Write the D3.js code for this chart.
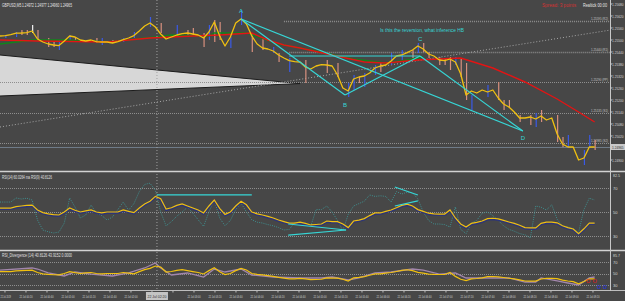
<!DOCTYPE html>
<html>
<head>
<meta charset="utf-8">
<script src="https://cdn.jsdelivr.net/npm/d3@7"></script>
<style>
  html, body { margin: 0; padding: 0; background: #474747; overflow: hidden; }
  svg { display: block; font-family: "Liberation Sans Narrow", "Liberation Sans", "DejaVu Sans", sans-serif; }
</style>
</head>
<body>
<div id="chart"></div>
<script>
// closing prices, one per bar (GBPUSD M5)
const closes = [
  1.25520,1.25522,1.25527,1.25534,1.25535,1.25537,1.25545,1.25505,1.25490,1.25480,
  1.25475,1.25472,1.25495,1.25520,1.25515,1.25500,1.25495,1.25500,1.25492,1.25490,
  1.25490,1.25485,1.25492,1.25502,1.25510,1.25522,1.25545,1.25570,1.25585,1.25565,
  1.25530,1.25505,1.25515,1.25525,1.25532,1.25535,1.25530,1.25525,1.25510,1.25540,
  1.25590,1.25520,1.25470,1.25515,1.25585,1.25605,1.25580,1.25520,1.25480,1.25460,
  1.25455,1.25445,1.25425,1.25410,1.25397,1.25392,1.25390,1.25365,1.25355,1.25370,
  1.25377,1.25375,1.25370,1.25325,1.25260,1.25245,1.25305,1.25315,1.25320,1.25335,
  1.25360,1.25370,1.25375,1.25395,1.25420,1.25425,1.25437,1.25450,1.25470,1.25455,
  1.25430,1.25420,1.25400,1.25397,1.25405,1.25390,1.25330,1.25225,1.25245,1.25235,
  1.25250,1.25240,1.25250,1.25210,1.25180,1.25165,1.25140,1.25110,1.25110,1.25115,
  1.25105,1.25120,1.25100,1.25110,1.25030,1.24980,1.24965,1.24965,1.24900,1.24910,
  1.24965,1.24965
];

// bar ranges: [bar, high, low, kind]  b = up, s = down, w = doji
const wicks = [
  [1,1.25525,1.25510,"b"],[3,1.25540,1.25515,"b"],[4,1.25550,1.25525,"s"],[5,1.25550,1.25525,"s"],
  [6,1.25575,1.25535,"w"],[7,1.25550,1.25500,"s"],[9,1.25510,1.25465,"s"],[10,1.25490,1.25465,"s"],
  [11,1.25500,1.25450,"b"],[13,1.25525,1.25500,"b"],[14,1.25515,1.25490,"s"],[18,1.25510,1.25485,"s"],
  [19,1.25510,1.25475,"b"],[21,1.25500,1.25485,"w"],[23,1.25510,1.25490,"b"],[25,1.25540,1.25510,"b"],
  [28,1.25615,1.25565,"b"],[30,1.25585,1.25535,"s"],[33,1.25575,1.25515,"b"],[35,1.25550,1.25515,"s"],
  [36,1.25560,1.25525,"s"],[38,1.25535,1.25465,"s"],[39,1.25575,1.25500,"b"],[40,1.25600,1.25490,"s"],
  [41,1.25590,1.25500,"s"],[43,1.25515,1.25460,"b"],[45,1.25650,1.25575,"b"],[47,1.25535,1.25440,"s"],
  [49,1.25510,1.25450,"s"],[51,1.25465,1.25435,"b"],[52,1.25435,1.25390,"s"],[54,1.25410,1.25340,"b"],
  [57,1.25400,1.25285,"s"],[61,1.25400,1.25335,"s"],[63,1.25385,1.25315,"s"],[65,1.25285,1.25215,"b"],
  [66,1.25325,1.25250,"b"],[67,1.25315,1.25285,"s"],[68,1.25335,1.25265,"b"],[70,1.25375,1.25325,"b"],
  [71,1.25390,1.25340,"s"],[73,1.25435,1.25375,"b"],[75,1.25450,1.25400,"b"],[77,1.25450,1.25410,"s"],
  [78,1.25485,1.25435,"b"],[79,1.25485,1.25440,"s"],[80,1.25440,1.25410,"s"],[82,1.25415,1.25375,"s"],
  [83,1.25410,1.25375,"s"],[84,1.25415,1.25350,"s"],[85,1.25415,1.25375,"b"],[86,1.25410,1.25315,"s"],
  [87,1.25385,1.25200,"s"],[88,1.25225,1.25150,"b"],[91,1.25275,1.25215,"b"],[93,1.25290,1.25200,"s"],
  [94,1.25200,1.25150,"s"],[95,1.25200,1.25160,"s"],[97,1.25125,1.25090,"s"],[99,1.25125,1.25075,"s"],
  [100,1.25135,1.25065,"b"],[101,1.25150,1.25090,"s"],[104,1.25125,1.24990,"s"],[105,1.25015,1.24965,"s"],
  [106,1.25025,1.24960,"b"],[109,1.24950,1.24875,"b"],[110,1.25025,1.24960,"b"],[111,1.25000,1.24950,"s"]
];

// moving averages [bar, price]
const maSlow = [
  [0,1.25500],[7,1.25495],[20,1.25490],[28,1.25510],[36,1.25520],[41,1.25525],[47,1.25535],
  [50,1.25500],[53,1.25475],[56,1.25460],[62,1.25425],[68,1.25390],[72,1.25385],[78,1.25400],
  [86,1.25410],[92,1.25360],[98,1.25290],[104,1.25205],[108,1.25140],[111,1.25090]
];
const maFast = [
  [0,1.25480],[6,1.25500],[12,1.25500],[20,1.25490],[29,1.25515],[32,1.25525],[39,1.25520],
  [40,1.25535],[46,1.25535],[52,1.25480],[58,1.25450],[66,1.25405],[72,1.25385],[76,1.25400],[79,1.25415]
];

// pivot levels
const levelValues = [1.25595, 1.25440, 1.25290, 1.25135, 1.24985];
const levelNames  = ["R2", "R1", "PP", "S1", "S2"];
const levelFrom   = [53, 54, 0, 0, 0];
const bidPrice = 1.24965;

// drawn pattern A-B-C-D
const patternNames  = ["A", "B", "C", "D"];
const patternBars   = [45, 64.4, 78.4, 97.6];
const patternPrices = [1.25605, 1.25225, 1.25420, 1.25045];

// grey channel wedge and trend line [bar, price]
const wedge = [[0,1.25425],[56,1.25282],[0,1.25220]];
const trend = [[0,1.25065],[114,1.25550]];

// RSI (dotted) and its signal (yellow), one per bar
const rsi = [
  58.3,58.3,58.3,61.7,60.8,61.5,60,43.3,35,33.5,32.5,33.3,40.8,61.7,54.2,45,47.5,55.8,49,47,
  43.3,45.8,52,58.3,51.5,57,67,73,74,68,50,38.5,42,46.5,50,54,49,43.5,38,50,
  60,45,38.5,43,52,57.5,50,43.5,41.5,40.8,39.5,38.5,37,35,35.5,41.2,40.8,39.2,38,52,
  52,55,50,43,34.5,48,55,57,59,64.2,63,63.5,63,58.3,67,65,66.5,66,61,50,
  43,40,40,39.5,37.5,54.2,35.5,32,40.8,43,49,50,47,43,38.5,35.5,34,32,31,28.5,
  55,54,51.7,56,44,38,37.5,36,33,52,61.5,60
];
const rsiMa = [
  53.3,53.3,53.3,54.5,55,55.5,55.8,51.7,49.5,48.5,47.8,47.5,50,53.3,51.5,50,51,51.7,50,49.2,
  50,50,50,51.7,50.5,49.5,53.3,56.7,59,63,61,52.5,53.5,55.5,56.7,55,53.3,51.7,49.2,55,
  60,53,48,50,55,59,56,50,48.5,47.5,46.3,45,43.3,42,40.8,40.8,41.5,40.5,39.2,39.6,
  40,42.5,42,42,40,37,42.5,43.3,44.5,47,49.2,49.2,50.5,51.7,53.5,55.5,56.5,55,52,50.5,
  49,48.5,48.3,48.3,51.7,45,40,37.5,40.5,41.3,42.5,44.5,44.8,44.2,43,41.7,40.5,39,37,36.7,
  36.7,40.5,41.5,41.5,41,38.5,37,35.8,32,36,40.8,40.8
];
const rsiNotes = [
  [[29.3,64.2],[47,64.2]], [[53.8,40],[64.6,35]], [[53.8,30.8],[64.6,35]],
  [[73.7,70.8],[78,64.2]], [[73.7,55],[78,59.2]]
];

// RSI divergence second line [bar, value]
const divSlow = [
  [0,56],[6,59.6],[7,57.8],[9,50.9],[12,45.7],[14,52.6],[17,49],[21,45.7],[24,50.9],[27,59.6],
  [29,68.3],[30,59.6],[32,47.4],[35,50.9],[38,43.9],[40,57.8],[42,52.6],[45,57.8],[47,47.4],[51,43.9],
  [56,42.2],[60,42.2],[62,43.9],[65,38.7],[67,42.2],[70,50.9],[73,52.6],[77,57.8],[79,56],[82,49],
  [85,50.9],[87,42.2],[91,42.2],[95,42.2],[98,35.2],[100,35.2],[101,42.2],[104,37],[106,33.5],[108,30],
  [110,42.2],[111,43.9]
];

// axis ticks
const priceTicks = [1.25680,1.25620,1.25560,1.25500,1.25440,1.25380,1.25320,1.25260,1.25200,1.25140,1.25080,1.25020,1.24900];
const rsiTicks = [82.5, 70, 50, 30];
const divTicks = [85.7, 70, 50, 30];
const timeLabels = [
  "22 Jul 2019","22 Jul 00:20","22 Jul 00:40","22 Jul 01:00","22 Jul 01:20","22 Jul 01:40",
  "22 Jul 02:00","22 Jul 02:20","22 Jul 02:40","22 Jul 03:00","22 Jul 03:20","22 Jul 03:40",
  "22 Jul 04:00","22 Jul 04:20","22 Jul 04:40","22 Jul 05:00","22 Jul 05:20","22 Jul 05:40",
  "22 Jul 06:00","22 Jul 06:20","22 Jul 06:40","22 Jul 07:00","22 Jul 07:20","22 Jul 07:40",
  "22 Jul 08:00","22 Jul 08:20","22 Jul 08:40","22 Jul 09:00","22 Jul 09:20"
];
const cursorBar = 29.3;
const cursorLabel = "22 Jul 02:20";

const W = 625, H = 301, plotRight = 610;
const x = d3.scaleLinear().domain([0, 112]).range([0, 600]);
const yMain = d3.scaleLinear().domain([1.2485, 1.2570]).range([170, 0]);
const yRsi = d3.scaleLinear().domain([30, 70]).range([236, 188]);
const yDiv = d3.scaleLinear().domain([30, 70]).range([285, 262]);
const barsPerLabel = 3.92;

const svg = d3.select("#chart").append("svg").attr("width", W).attr("height", H);
svg.append("rect").attr("width", W).attr("height", H).attr("fill", "#474747");

const defs = svg.append("defs");
[["clipMain", 0, 171], ["clipRsi", 172, 78], ["clipDiv", 251, 39]].forEach(([id, y0, h]) => {
  defs.append("clipPath").attr("id", id).append("rect")
    .attr("x", 0).attr("y", y0).attr("width", plotRight).attr("height", h);
});

const tiny = (g, txt, px, py, size, fill, len, anchor) => {
  const t = g.append("text").attr("x", px).attr("y", py).attr("font-size", size)
    .attr("fill", fill).text(txt);
  if (len) t.attr("textLength", len).attr("lengthAdjust", "spacingAndGlyphs");
  if (anchor) t.attr("text-anchor", anchor);
  return t;
};

// ---------- main panel ----------
const main = svg.append("g").attr("clip-path", "url(#clipMain)");
const lineMain = d3.line().x(d => x(d[0])).y(d => yMain(d[1]));

main.append("path").attr("d", lineMain(wedge) + "Z").attr("fill", "#d7d7d7");
main.append("path").attr("d", lineMain(wedge))
  .attr("fill", "none").attr("stroke", "#1c1c1c").attr("stroke-width", 1);

levelValues.forEach((v, i) => {
  main.append("line").attr("x1", x(levelFrom[i])).attr("x2", plotRight)
    .attr("y1", Math.round(yMain(v)) + 0.5).attr("y2", Math.round(yMain(v)) + 0.5)
    .attr("stroke", "#8e8e8e").attr("stroke-width", i < 2 ? 1.5 : 1).attr("stroke-dasharray", "1,1");
  tiny(main, d3.format(".5f")(v) + " (" + levelNames[i] + ")", 608, yMain(v) - 1.5, 4, "#c4c4c4", 17, "end");
});

main.append("path").attr("d", lineMain(trend)).attr("fill", "none")
  .attr("stroke", "#a6a6a6").attr("stroke-width", 1).attr("stroke-dasharray", "1,2");

main.append("line").attr("x1", 0).attr("x2", plotRight)
  .attr("y1", Math.round(yMain(bidPrice)) + 0.5).attr("y2", Math.round(yMain(bidPrice)) + 0.5)
  .attr("stroke", "#6f7b88").attr("stroke-width", 1);

const wickColor = { b: "#3a5ae8", s: "#d8907e", w: "#f2f2f2" };
main.selectAll("line.wick").data(wicks).enter().append("line")
  .attr("x1", d => x(d[0]) + 0.5).attr("x2", d => x(d[0]) + 0.5)
  .attr("y1", d => yMain(d[1])).attr("y2", d => yMain(d[2]))
  .attr("stroke", d => wickColor[d[3]]).attr("stroke-width", 1.2);

main.append("path").attr("d", lineMain(maFast)).attr("fill", "none")
  .attr("stroke", "#10861a").attr("stroke-width", 1.3);
main.append("path").attr("d", lineMain(maSlow)).attr("fill", "none")
  .attr("stroke", "#e31414").attr("stroke-width", 1.4);
main.append("path").attr("d", lineMain(closes.map((c, i) => [i, c]))).attr("fill", "none")
  .attr("stroke", "#f0c010").attr("stroke-width", 1.3).attr("stroke-linejoin", "round");

const P = patternNames.map((n, i) => [patternBars[i], patternPrices[i]]);
[[P[0], P[1]], [P[0], P[3]], [P[1], P[2]], [P[2], P[3]], [[54, patternPrices[2]], P[2]]].forEach(s => {
  main.append("path").attr("d", lineMain(s)).attr("fill", "none")
    .attr("stroke", "#36d6d6").attr("stroke-width", 1.2);
});
const labelOffset = [-6, 12, -15, 9];
patternNames.forEach((n, i) => {
  tiny(main, n, x(patternBars[i]) - 2, yMain(patternPrices[i]) + labelOffset[i], 6, "#36d6d6");
});

tiny(main, "Is this the reversion, what inference HB", 380, 32, 6.2, "#36d6d6", 84);
tiny(svg, "GBPUSD,M5  1.24972 1.24977 1.24960 1.24965", 2, 6.5, 5, "#e6e6e6", 70);
tiny(svg, "Spread: 3 points", 542, 7, 6, "#d43232", 34);
tiny(svg, "Realtick  00:00", 583, 6.5, 4.5, "#e6e6e6", 24);

// ---------- RSI panel ----------
const rsiG = svg.append("g").attr("clip-path", "url(#clipRsi)");
rsiTicks.slice(1).forEach(v => {
  rsiG.append("line").attr("x1", 0).attr("x2", plotRight)
    .attr("y1", Math.round(yRsi(v)) + 0.5).attr("y2", Math.round(yRsi(v)) + 0.5)
    .attr("stroke", "#8e8e8e").attr("stroke-dasharray", "1,1");
});
const lineRsi = d3.line().x(d => x(d[0])).y(d => yRsi(d[1]));
rsiG.append("path").attr("d", lineRsi(rsi.map((v, i) => [i, v]))).attr("fill", "none")
  .attr("stroke", "#3f8f8f").attr("stroke-width", 1).attr("stroke-dasharray", "1,1.2");
rsiG.append("path").attr("d", lineRsi(rsiMa.map((v, i) => [i, v]))).attr("fill", "none")
  .attr("stroke", "#2c3478").attr("stroke-width", 2.2).attr("transform", "translate(0,0.9)");
rsiG.append("path").attr("d", lineRsi(rsiMa.map((v, i) => [i, v]))).attr("fill", "none")
  .attr("stroke", "#f0c010").attr("stroke-width", 1.2);
rsiNotes.forEach(s => {
  rsiG.append("path").attr("d", lineRsi(s)).attr("fill", "none")
    .attr("stroke", "#36d6d6").attr("stroke-width", 1.2);
});
tiny(svg, "RSI(14) 60.0264  ma RSI(9) 40.8126", 2, 178.5, 4.5, "#e0e0e0", 50);

// ---------- RSI divergence panel ----------
const divG = svg.append("g").attr("clip-path", "url(#clipDiv)");
divTicks.slice(1).forEach(v => {
  divG.append("line").attr("x1", 0).attr("x2", plotRight)
    .attr("y1", Math.round(yDiv(v)) + 0.5).attr("y2", Math.round(yDiv(v)) + 0.5)
    .attr("stroke", "#8e8e8e").attr("stroke-dasharray", "1,1");
});
const lineDiv = d3.line().x(d => x(d[0])).y(d => yDiv(d[1]));
divG.append("path").attr("d", lineDiv(divSlow)).attr("fill", "none")
  .attr("stroke", "#a286ac").attr("stroke-width", 1.3);
divG.append("path").attr("d", lineDiv(rsiMa.map((v, i) => [i, v]))).attr("fill", "none")
  .attr("stroke", "#f0c010").attr("stroke-width", 1.2);
tiny(svg, "RSI_Divergence (14) 40.8126 43.9152 0.0000", 2, 256.8, 4.5, "#e0e0e0", 70);
tiny(svg, "0 0", 586, 283, 6, "#d02020", 11);
tiny(svg, "0 0", 597, 289, 5.5, "#2030e0", 10);

// ---------- frames, crosshair, axes ----------
svg.append("line").attr("x1", x(cursorBar)).attr("x2", x(cursorBar)).attr("y1", 0).attr("y2", 290)
  .attr("stroke", "#a0a0a0").attr("stroke-dasharray", "1,2");
[171.5, 250.5].forEach(yy => {
  svg.append("line").attr("x1", 0).attr("x2", W).attr("y1", yy).attr("y2", yy)
    .attr("stroke", "#d2d2d2").attr("stroke-width", 1.5);
});
svg.append("line").attr("x1", 0).attr("x2", W).attr("y1", 290.5).attr("y2", 290.5)
  .attr("stroke", "#bdbdbd");
svg.append("line").attr("x1", plotRight + 0.5).attr("x2", plotRight + 0.5).attr("y1", 0).attr("y2", 291)
  .attr("stroke", "#c8c8c8");

const axisText = "#d6d6d6";
priceTicks.forEach(v => {
  svg.append("line").attr("x1", plotRight).attr("x2", plotRight + 2)
    .attr("y1", yMain(v)).attr("y2", yMain(v)).attr("stroke", "#c8c8c8");
  tiny(svg, d3.format(".5f")(v), 612, yMain(v) + 1.5, 3.9, axisText, 11.5);
});
svg.append("rect").attr("x", 611).attr("y", yMain(bidPrice) - 3).attr("width", 14).attr("height", 6)
  .attr("fill", "#c9c9c9");
tiny(svg, d3.format(".5f")(bidPrice), 612, yMain(bidPrice) + 1.5, 3.9, "#303030", 11.5);

rsiTicks.forEach((v, i) => {
  tiny(svg, String(v), 613, (i === 0 ? 175 : yRsi(v)) + 1.5, 3.9, axisText, i === 0 ? 7 : 4.5);
});
divTicks.forEach((v, i) => {
  tiny(svg, String(v), 613, (i === 0 ? 255 : yDiv(v)) + 1.5, 3.9, axisText, i === 0 ? 7 : 4.5);
});

const cursorX = x(cursorBar);
timeLabels.forEach((t, k) => {
  const px = x(0.93 + k * barsPerLabel);
  svg.append("line").attr("x1", px).attr("x2", px).attr("y1", 290).attr("y2", 292.5).attr("stroke", "#bdbdbd");
  if (Math.abs(px - cursorX) < 18) return;   // hidden behind the cursor time box
  if (k === 0) tiny(svg, t, 0.5, 298, 3.9, axisText, 10.5);
  else tiny(svg, t, px, 298, 3.9, axisText, 13, "middle");
});
svg.append("rect").attr("x", cursorX - 11).attr("y", 292).attr("width", 22).attr("height", 8)
  .attr("fill", "#c4c4c4");
tiny(svg, cursorLabel, cursorX, 298, 4.2, "#2e2e2e", 19, "middle");
</script>
</body>
</html>
